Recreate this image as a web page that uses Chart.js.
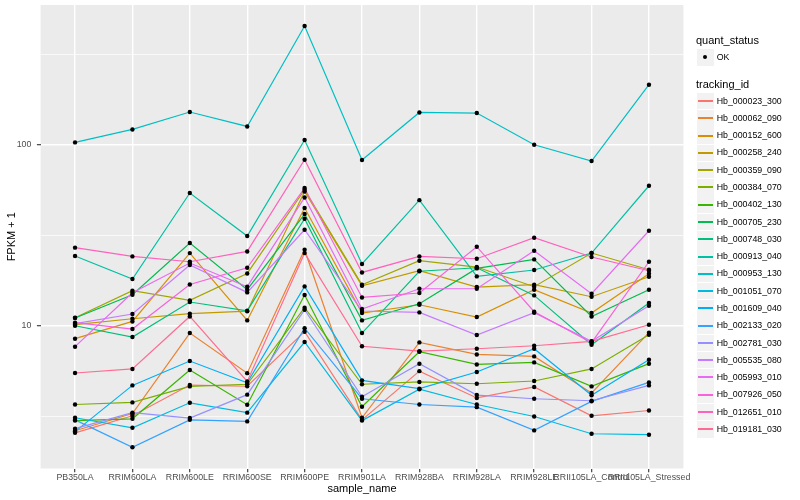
<!DOCTYPE html>
<html><head><meta charset="utf-8">
<script src="https://cdn.jsdelivr.net/npm/chart.js@4.4.1/dist/chart.umd.min.js"></script>
<style>
html,body{margin:0;padding:0;background:#fff;}
#wrap{position:relative;width:800px;height:500px;overflow:hidden;font-family:"Liberation Sans",Arial,Helvetica,sans-serif;}
#c{position:absolute;left:0;top:0;}
.lg{position:absolute;white-space:nowrap;color:#000;}
.ttl{font-size:11px;line-height:11px;}
.txt{font-size:8.8px;line-height:8.8px;}
.key{position:absolute;background:#F2F2F2;}
.kline{position:absolute;height:1.5px;}
.kdot{position:absolute;width:4.4px;height:4.4px;border-radius:50%;background:#000;}
</style></head>
<body><div id="wrap"><canvas id="c" width="800" height="500"></canvas><div id="legend"></div></div>
<script>
// ---- data ----
const samples = ["PB350LA","RRIM600LA","RRIM600LE","RRIM600SE","RRIM600PE","RRIM901LA","RRIM928BA","RRIM928LA","RRIM928LE","RRII105LA_Control","RRII105LA_Stressed"];
const trackingIds = ["Hb_000023_300","Hb_000062_090","Hb_000152_600","Hb_000258_240","Hb_000359_090","Hb_000384_070","Hb_000402_130","Hb_000705_230","Hb_000748_030","Hb_000913_040","Hb_000953_130","Hb_001051_070","Hb_001609_040","Hb_002133_020","Hb_002781_030","Hb_005535_080","Hb_005993_010","Hb_007926_050","Hb_012651_010","Hb_019181_030"];
const colors = ["#F8766D","#EA8331","#D89000","#C09B00","#A3A500","#7CAE00","#39B600","#00BB4E","#00BF7D","#00C1A3","#00BFC4","#00BAE0","#00B0F6","#35A2FF","#9590FF","#C77CFF","#E76BF3","#FA62DB","#FF62BC","#FF6C91"];
const quantStatus = ["OK"];
const yLabelTicks = [10, 100];
const yMinorBreaks = [3.1623, 31.623, 316.23];

// FPKM + 1 per tracking_id, in sample order
const Hb_000023_300 = [2.56, 3.18, 4.70, 4.63, 9.27, 3.02, 5.61, 3.99, 4.59, 3.18, 3.40];
const Hb_000062_090 = [2.63, 3.27, 9.11, 5.47, 26.3, 3.10, 8.09, 6.94, 6.77, 4.25, 9.15];
const Hb_000152_600 = [8.48, 10.56, 25.2, 10.70, 44.7, 11.75, 13.06, 11.17, 15.81, 11.75, 19.38];
const Hb_000258_240 = [10.13, 10.93, 11.65, 12.03, 55.2, 16.63, 20.13, 16.36, 16.85, 14.46, 18.65];
const Hb_000359_090 = [11.07, 15.61, 13.80, 19.45, 56.4, 16.85, 22.87, 21.10, 16.43, 25.21, 20.39];
const Hb_000384_070 = [3.67, 3.77, 4.62, 4.75, 12.58, 4.75, 4.89, 4.78, 4.95, 5.77, 8.92];
const Hb_000402_130 = [2.99, 3.06, 5.69, 3.66, 14.78, 3.57, 7.18, 6.11, 6.27, 4.62, 6.17];
const Hb_000705_230 = [11.03, 14.84, 28.64, 15.81, 41.41, 10.70, 13.23, 20.73, 23.25, 11.25, 15.81];
const Hb_000748_030 = [10.0, 8.66, 13.52, 12.10, 39.0, 9.11, 20.0, 20.91, 14.71, 7.85, 13.35];
const Hb_000913_040 = [24.27, 18.11, 54.1, 31.3, 106.2, 21.93, 49.4, 18.73, 20.31, 25.21, 59.35];
const Hb_000953_130 = [103.0, 121.5, 151.6, 126.2, 452.8, 82.3, 150.8, 149.7, 100.0, 81.3, 214.6];
const Hb_001051_070 = [3.10, 2.73, 3.75, 3.31, 8.13, 2.99, 4.46, 3.67, 3.15, 2.53, 2.50];
const Hb_001609_040 = [2.60, 4.68, 6.38, 4.84, 16.49, 4.99, 4.49, 5.55, 7.46, 4.13, 6.49];
const Hb_002133_020 = [3.02, 2.13, 3.02, 2.96, 9.69, 3.95, 3.67, 3.55, 2.64, 3.82, 4.86];
const Hb_002781_030 = [2.70, 3.31, 3.09, 4.16, 12.26, 4.05, 6.17, 4.14, 3.95, 3.85, 4.68];
const Hb_005535_080 = [10.26, 11.60, 21.64, 15.28, 33.91, 12.06, 11.85, 8.88, 11.80, 8.2, 12.90];
const Hb_005993_010 = [7.66, 15.22, 22.20, 16.43, 51.14, 12.37, 16.01, 16.01, 25.96, 15.02, 33.49];
const Hb_007926_050 = [10.39, 9.59, 16.91, 20.91, 57.65, 14.33, 15.16, 27.32, 11.95, 8.06, 22.57];
const Hb_012651_010 = [27.0, 24.15, 22.57, 25.73, 82.6, 19.70, 24.15, 23.45, 30.64, 23.97, 20.13];
const Hb_019181_030 = [5.48, 5.77, 11.25, 4.92, 25.2, 7.70, 7.23, 7.46, 7.75, 8.19, 10.13];

const seriesList = [Hb_000023_300, Hb_000062_090, Hb_000152_600, Hb_000258_240, Hb_000359_090, Hb_000384_070, Hb_000402_130, Hb_000705_230, Hb_000748_030, Hb_000913_040, Hb_000953_130, Hb_001051_070, Hb_001609_040, Hb_002133_020, Hb_002781_030, Hb_005535_080, Hb_005993_010, Hb_007926_050, Hb_012651_010, Hb_019181_030];

// ---- chart ----
const FONT = "'Liberation Sans', Arial, Helvetica, sans-serif";
Chart.defaults.font.family = FONT;

const panelBg = {
  id: 'panelBg',
  beforeDraw(chart) {
    const {ctx, chartArea: a} = chart;
    ctx.save();
    ctx.fillStyle = '#EBEBEB';
    ctx.fillRect(a.left, a.top, a.right - a.left, a.bottom - a.top);
    ctx.restore();
  }
};

const datasets = [];
seriesList.forEach((vals, i) => {
  datasets.push({
    label: trackingIds[i],
    data: vals.map((v, j) => ({x: j, y: v})),
    borderColor: colors[i], backgroundColor: colors[i],
    borderWidth: 1.2, pointRadius: 0, tension: 0, fill: false,
    order: 100 - i
  });
});
seriesList.forEach((vals, i) => {
  datasets.push({
    label: trackingIds[i] + ' ' + quantStatus[0],
    data: vals.map((v, j) => ({x: j, y: v})),
    showLine: false, pointRadius: 2.2, pointStyle: 'circle',
    pointBackgroundColor: '#000', pointBorderColor: '#000', pointBorderWidth: 0,
    order: 0
  });
});

const isMajorY = v => yLabelTicks.includes(v);

new Chart(document.getElementById('c'), {
  type: 'line',
  data: {datasets},
  options: {
    responsive: false, animation: false, events: [],
    layout: {padding: {left: 0, right: 116.6, top: 5, bottom: 0}},
    plugins: {legend: {display: false}, tooltip: {enabled: false}},
    scales: {
      x: {
        type: 'linear', min: -0.6, max: 10.6,
        afterBuildTicks(s) { s.ticks = samples.map((_, i) => ({value: i})); },
        afterFit(s) { s.height = 31.5; s.paddingLeft = 0; s.paddingRight = 0; },
        border: {display: false},
        grid: {color: '#FFFFFF', lineWidth: 1.4, tickColor: '#333333', tickLength: 3.7, tickWidth: 1.1},
        ticks: {autoSkip: false, maxRotation: 0, minRotation: 0, padding: 0.5, color: '#4D4D4D',
                font: {size: 8.8}, callback: v => samples[v]},
        title: {display: true, text: 'sample_name', color: '#000', font: {size: 11}, padding: {top: 0, bottom: 4.6}}
      },
      y: {
        type: 'logarithmic', min: 1.626, max: 591.7,
        afterBuildTicks(s) {
          s.ticks = yMinorBreaks.concat(yLabelTicks).sort((a, b) => a - b).map(v => ({value: v}));
        },
        afterFit(s) { s.width = 40.6; s.paddingTop = 0; s.paddingBottom = 0; },
        border: {display: false},
        grid: {
          color: '#FFFFFF',
          lineWidth: c => (c.tick && isMajorY(c.tick.value)) ? 1.4 : 0.7,
          tickColor: c => (c.tick && isMajorY(c.tick.value)) ? '#333333' : 'rgba(0,0,0,0)',
          tickLength: 3.7, tickWidth: 1.1
        },
        ticks: {padding: 5.5, color: '#4D4D4D', font: {size: 8.8},
                callback: v => isMajorY(v) ? String(v) : ''},
        title: {display: true, text: 'FPKM + 1', color: '#000', font: {size: 11}, padding: {top: 5.8, bottom: 0}}
      }
    }
  },
  plugins: [panelBg]
});

// ---- legend (HTML) ----
const lg = document.getElementById('legend');
function add(html) { lg.insertAdjacentHTML('beforeend', html); }
add('<div class="lg ttl" style="left:696px;top:35px;">quant_status</div>');
add('<div class="key" style="left:697px;top:49px;width:16.6px;height:16.6px;"></div>');
add('<div class="kdot" style="left:703px;top:55px;"></div>');
add('<div class="lg txt" style="left:716.7px;top:52.9px;">' + quantStatus[0] + '</div>');
add('<div class="lg ttl" style="left:696px;top:78.6px;">tracking_id</div>');
trackingIds.forEach((id, i) => {
  const cy = 101 + i * 17.28;
  add('<div class="key" style="left:697px;top:' + (cy - 8.3) + 'px;width:16.6px;height:16.6px;"></div>');
  add('<div class="kline" style="left:698px;width:14.6px;top:' + Math.round(cy - 1) + 'px;background:' + colors[i] + ';"></div>');
  add('<div class="lg txt" style="left:716.7px;top:' + (cy - 4.4) + 'px;">' + id + '</div>');
});
</script>
</body></html>
